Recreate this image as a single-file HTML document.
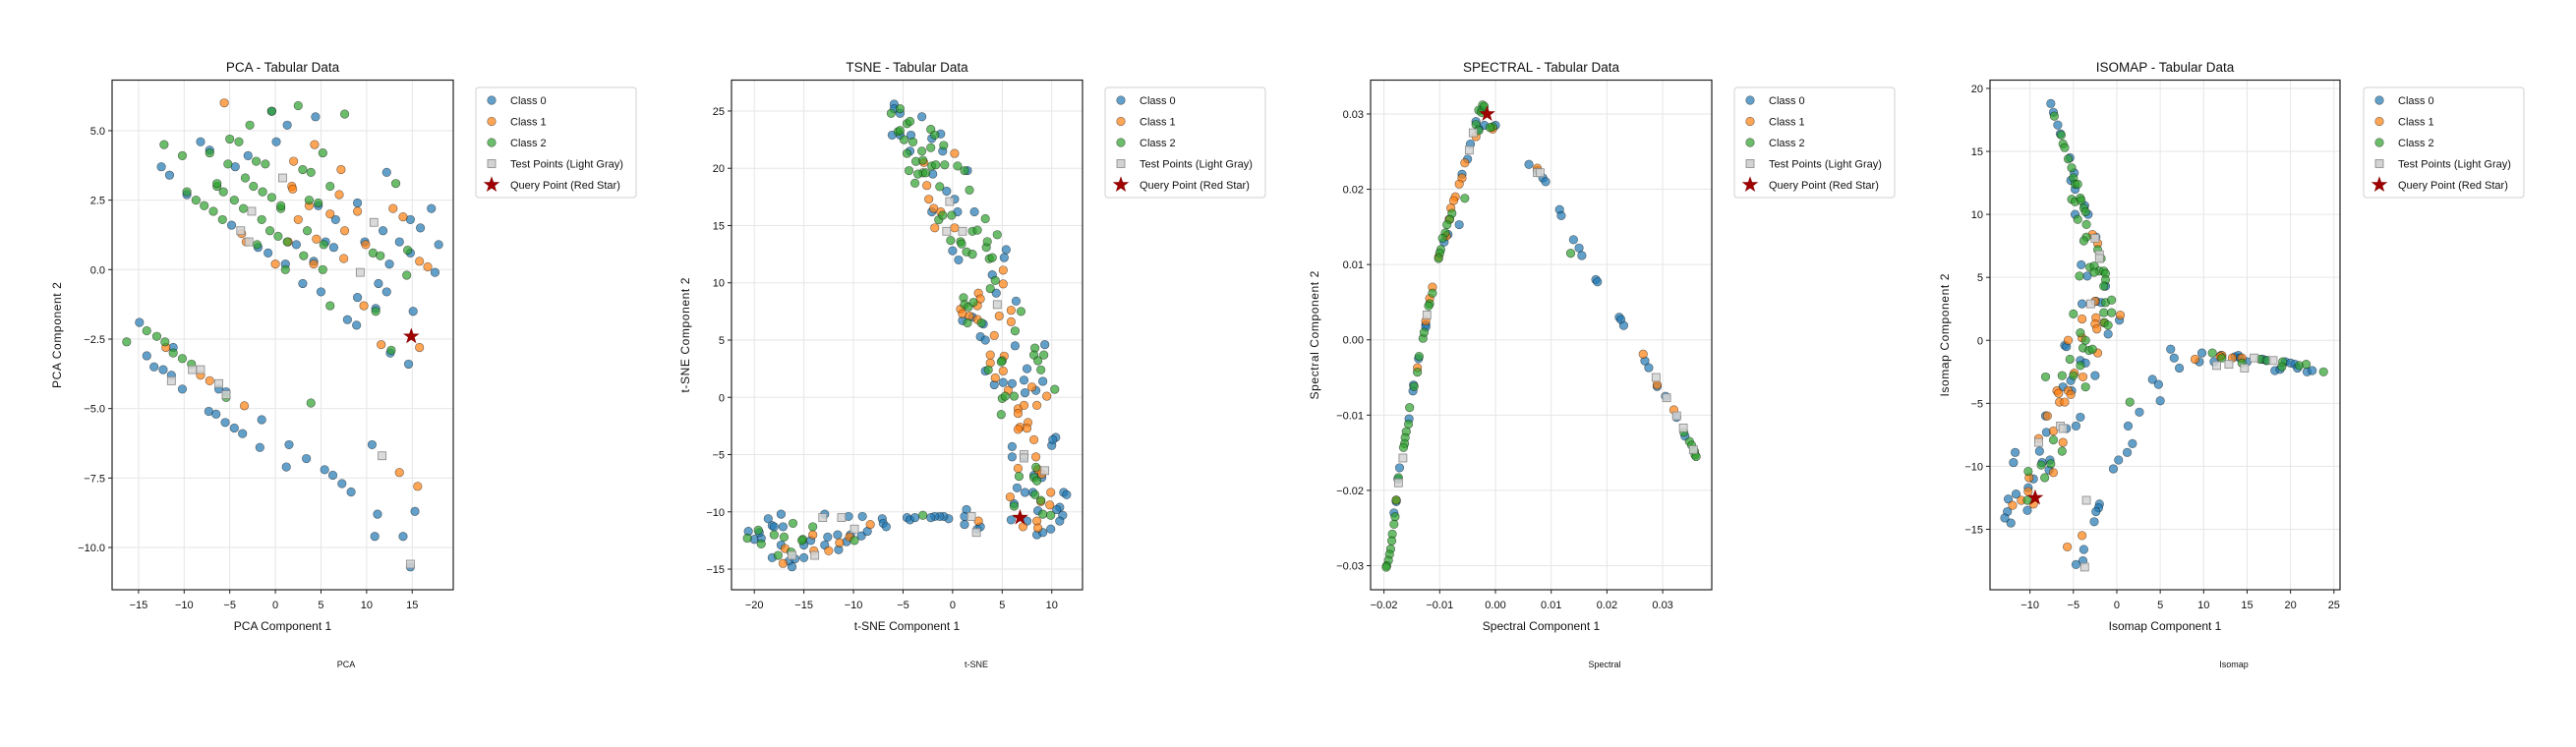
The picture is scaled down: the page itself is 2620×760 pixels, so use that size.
<!DOCTYPE html>
<html><head><meta charset="utf-8">
<style>
html,body{margin:0;padding:0;background:#fff;}
svg{display:block;font-family:"Liberation Sans","DejaVu Sans",sans-serif;}
</style></head>
<body>
<svg id="chart" width="2620" height="760" viewBox="0 0 2620 760" xmlns="http://www.w3.org/2000/svg"></svg>
<script>
// ---------- PCA data ----------
const pcaC0=[[-12.5,3.7],[-11.6,3.4],[-8.2,4.6],[-7.2,4.3],[-4.4,3.7],[-3,4.1],[-0.4,5.7],[0.1,4.6],[1.3,5.2],[4.4,5.5],[12.2,3.5],[9,2.4],[4.7,2.3],[6.6,1.8],[-4.8,1.6],[-1.9,0.8],[-0.8,0.6],[1.1,0.2],[2.3,0.9],[4.2,0.3],[5.5,1.0],[6.4,0.8],[9.8,1.0],[11.8,1.4],[13.6,1.0],[14.8,1.8],[15.9,1.5],[17.1,2.2],[17.9,0.9],[17.5,-0.1],[12.5,0.2],[14.8,0.6],[3.0,-0.5],[5.0,-0.8],[11.3,-0.5],[12.2,-0.8],[9.0,-1.0],[11.0,-1.4],[15.1,-1.5],[7.9,-1.8],[8.9,-2.0],[12.6,-3.0],[14.6,-3.4],[-9.7,2.7],[-14.9,-1.9],[-14.1,-3.1],[-13.3,-3.5],[-12.3,-3.6],[-11.2,-2.8],[-11.4,-3.8],[-10.2,-4.3],[-7.3,-5.1],[-6.5,-5.2],[-5.5,-5.5],[-4.5,-5.7],[-3.6,-5.9],[-5.4,-4.4],[-1.5,-5.4],[-1.7,-6.4],[1.5,-6.3],[1.2,-7.1],[3.4,-6.8],[5.4,-7.2],[6.3,-7.4],[7.3,-7.7],[8.3,-8.0],[10.6,-6.3],[11.2,-8.8],[10.9,-9.6],[14.0,-9.6],[15.3,-8.7],[14.8,-10.7],[-6.2,-4.3]];
const pcaC1=[[-5.6,6.0],[4.3,4.5],[2.0,3.9],[7.2,3.6],[1.8,3.0],[1.9,2.9],[7.0,2.7],[3.7,2.3],[6.0,2.0],[9.0,2.1],[12.9,2.2],[14.0,1.9],[2.5,1.8],[7.6,1.4],[4.5,1.1],[9.9,0.9],[0,0.2],[4.2,0.2],[7.5,0.4],[15.8,0.3],[16.7,0.1],[9.7,-1.3],[11.6,-2.7],[15.8,-2.8],[-3.7,1.3],[-3.2,1.0],[-8.2,-3.8],[-7.2,-4.0],[-3.4,-4.9],[13.6,-7.3],[15.6,-7.8],[1.4,1.0],[-12.0,-2.8]];
const pcaC2=[[-12.2,4.5],[-10.2,4.1],[-7.2,4.2],[-5.0,4.7],[-4.0,4.6],[-2.8,5.2],[-0.4,5.7],[2.5,5.9],[7.6,5.6],[-5.2,3.8],[-3.3,3.3],[-2.1,3.9],[-1.1,3.8],[-2.4,3.0],[-1.4,2.8],[-0.4,2.6],[0.6,2.2],[3.0,3.6],[3.9,3.5],[6.0,3.0],[5.2,4.2],[13.2,3.1],[-9.7,2.8],[-8.7,2.5],[-7.8,2.3],[-6.8,2.1],[-6.4,3.0],[-5.7,2.8],[-4.5,2.5],[-3.5,2.2],[-5.8,1.8],[-1.5,1.8],[-0.6,1.4],[0.3,1.2],[1.3,1.0],[3.5,1.4],[4.7,2.4],[3.7,2.5],[5.3,0.9],[3.1,0.5],[5.2,0.0],[1.1,0],[-2,0.9],[10.7,0.6],[11.5,0.5],[11.0,-1.5],[14.5,0.7],[14.4,-0.2],[6.0,-1.3],[12.7,-2.9],[-16.3,-2.6],[-14.1,-2.2],[-13.0,-2.4],[-12.1,-2.6],[-11.2,-3.0],[-10.2,-3.2],[-9.2,-3.4],[-5.4,-4.6],[3.9,-4.8],[0.6,2.3],[-6.4,3.1]];
const pcaTest=[[0.8,3.3],[-2.6,2.1],[-3.8,1.4],[-2.9,1.0],[10.8,1.7],[9.3,-0.1],[-11.4,-4.0],[-9.1,-3.6],[-8.2,-3.6],[-6.2,-4.1],[-5.4,-4.5],[11.7,-6.7],[14.8,-10.6]];
const pcaQuery=[14.9,-2.4];
const pcaXTicks=[-15,-10,-5,0,5,10,15];
const pcaYTicks=[-10,-7.5,-5,-2.5,0,2.5,5];

// ---------- t-SNE data ----------
const tsneC0=[[-5.9,25.6],[-5.9,25.2],[-5.3,24.8],[-3.1,24.5],[-6.1,22.9],[-5.3,22.9],[-4.2,22.9],[-4.3,21.5],[-2.1,22.6],[-1.2,23.0],[-1.0,21.5],[-2.0,19.5],[1.5,19.8],[-0.6,18.0],[0.2,17.3],[0.5,16.2],[2.2,16.2],[-2.1,16.2],[0,12.8],[0.6,12.0],[5.4,12.9],[5.2,12.2],[4.0,10.7],[4.4,9.1],[6.4,8.4],[1.0,6.7],[2.0,7.0],[3.1,6.4],[2.8,5.3],[3.3,5.0],[6.3,4.5],[9.3,4.6],[3.3,2.3],[4.2,1.1],[5.1,1.3],[6.0,1.2],[7.5,2.5],[7.2,1.5],[7.3,0.4],[8.4,0.6],[9.1,1.4],[6.0,-4.3],[6.0,-5.2],[7.2,-5.2],[8.2,-6.8],[9.0,-7.0],[10.0,-4.2],[10.4,-3.5],[10.1,-3.7],[6.5,-7.9],[7.3,-8.3],[8.1,-8.3],[11.2,-8.3],[11.5,-8.5],[10.8,-9.6],[6.2,-9.3],[8.6,-9.9],[5.9,-10.7],[7.5,-10.8],[8.5,-12.0],[9.1,-11.8],[9.9,-11.5],[10.5,-9.8],[11.1,-10.3],[10.8,-10.8],[1.4,-9.8],[1.2,-11.1],[1.2,-10.4],[2.5,-11.5],[2.8,-11.3],[-0.4,-10.6],[-0.9,-10.4],[-1.3,-10.4],[-1.8,-10.4],[-2.2,-10.5],[-4.6,-10.5],[-4.3,-10.7],[-3.8,-10.5],[-7.1,-10.6],[-7.0,-11.0],[-6.7,-11.3],[-9.1,-10.4],[-10.5,-10.4],[-12.9,-10.2],[-20.6,-11.7],[-20.0,-12.4],[-18.6,-10.6],[-18.2,-11.2],[-18.0,-11.3],[-17.3,-10.2],[-17.1,-11.3],[-17.3,-12.9],[-18.2,-14.0],[-16.5,-14.3],[-16.2,-14.8],[-15.9,-14.1],[-15.0,-14.0],[-15.0,-12.9],[-14.3,-12.5],[-12.9,-12.9],[-12.6,-12.2],[-11.6,-12.0],[-11.5,-13.3],[-10.7,-12.6],[-10.3,-12.0],[-9.2,-12.1],[-8.6,-11.7],[-19.3,-12.3],[-19.5,-11.8]];
const tsneC1=[[0.2,21.3],[-2.9,20.5],[-2.6,18.5],[-2.4,17.3],[-1.9,16.5],[-1.2,16.2],[-1.8,14.8],[0.2,14.8],[5.1,11.1],[5.1,9.9],[2.6,9.1],[2.8,8.6],[2.5,8.0],[0.8,7.7],[1.0,7.3],[1.7,7.1],[2.5,6.8],[4.7,7.1],[5.9,7.6],[5.9,6.6],[4.2,5.4],[3.8,3.7],[3.8,3.0],[5.2,3.6],[5.1,2.3],[4.3,1.7],[5.6,0.6],[6.6,-1.0],[6.6,-1.4],[7.2,-0.7],[8.5,-0.7],[9.5,0.1],[8.0,0.9],[6.8,-2.6],[6.6,-2.8],[7.6,-2.2],[7.5,-2.7],[8.2,-3.7],[8.4,-5.2],[6.6,-6.2],[8.6,-6.3],[9.0,-6.7],[9.9,-8.3],[8.9,-9.1],[9.8,-9.4],[5.8,-8.7],[7.1,-11.3],[8.5,-10.8],[8.6,-11.4],[2.6,-10.8],[-8.3,-11.1],[-10.4,-12.2],[-11.4,-12.7],[-12.5,-13.4],[-14.1,-12.0],[-14.0,-13.4],[-17.1,-14.5],[-16.9,-13.2]];
const tsneC2=[[-6.2,24.8],[-5.3,25.2],[-5.5,23.2],[-5.3,23.3],[-4.6,23.9],[-4.3,24.1],[-4.9,22.5],[-4.6,21.3],[-4.0,22.3],[-2.2,23.4],[-1.8,22.9],[-2.2,21.8],[-0.9,22.0],[-3.1,21.5],[-3.7,20.6],[-3.0,20.7],[-4.4,19.8],[-2.1,20.2],[-1.7,20.3],[-0.8,20.3],[0.5,20.2],[-3.0,19.6],[-3.5,19.5],[-2.7,19.6],[-3.8,18.7],[-1.3,18.4],[1.2,19.8],[1.7,18.1],[-1.4,15.5],[-1.0,15.9],[-0.1,15.9],[2.0,14.5],[2.5,14.6],[3.3,15.6],[4.5,14.2],[-0.2,13.7],[0.8,13.6],[1.4,12.7],[2.0,12.5],[0.9,13.4],[3.4,13.1],[3.5,13.6],[3.7,12.1],[4.0,12.2],[4.3,10.2],[3.8,9.5],[1.1,8.7],[1.2,8.1],[1.6,7.9],[2.1,8.3],[1.5,6.5],[2.9,6.5],[6.9,7.5],[6.3,5.8],[8.3,4.3],[8.2,3.7],[8.6,3.2],[9.2,3.7],[8.9,2.4],[5.0,3.2],[4.9,3.1],[3.6,2.4],[5.0,-0.1],[5.3,0.1],[6.2,0.1],[4.9,-1.5],[10.3,0.7],[8.4,-6.1],[6.7,-6.9],[8.2,-7.0],[8.5,-7.3],[6.2,-9.5],[8.3,-8.5],[8.9,-9.0],[9.1,-10.2],[9.9,-10.3],[-3.0,-10.3],[-16.1,-11.0],[-17.0,-12.2],[-18.0,-12.0],[-19.6,-11.6],[-20.7,-12.3],[-19.3,-12.8],[-17.6,-13.8],[-15.1,-12.4],[-14.1,-11.3],[-15.2,-12.5],[-9.9,-12.5],[-16.3,-13.5]];
const tsneTest=[[-0.3,17.1],[-0.6,14.5],[1.0,14.5],[4.5,8.1],[7.2,-5.0],[7.2,-5.3],[9.3,-6.4],[1.9,-10.4],[2.4,-11.8],[-9.9,-11.5],[-11.2,-10.5],[-13.1,-10.5],[-13.9,-13.8],[-16.2,-13.8]];
const tsneQuery=[6.8,-10.5];
const tsneXTicks=[-20,-15,-10,-5,0,5,10];
const tsneYTicks=[-15,-10,-5,0,5,10,15,20,25];

// ---------- Spectral data ----------
const specC0=[[-0.0025,0.0305],[-0.0035,0.029],[-0.002,0.0285],[-0.003,0.028],[0.0,0.0285],[-0.0045,0.026],[-0.005,0.024],[-0.006,0.022],[-0.0065,0.0153],[-0.0085,0.014],[-0.0092,0.013],[-0.0125,0.002],[-0.0125,0.0017],[-0.0138,-0.0025],[-0.0147,-0.006],[-0.0148,-0.0068],[-0.0155,-0.0105],[-0.0172,-0.017],[-0.0175,-0.0185],[-0.0178,-0.0215],[-0.0182,-0.023],[0.006,0.0233],[0.0075,0.0225],[0.0085,0.0215],[0.009,0.021],[0.0115,0.0173],[0.0118,0.0165],[0.014,0.0133],[0.015,0.0122],[0.0155,0.0112],[0.018,0.008],[0.0183,0.0077],[0.0222,0.003],[0.0225,0.0027],[0.023,0.0019],[0.0268,-0.0028],[0.0275,-0.0037],[0.029,-0.0062],[0.0305,-0.0075],[0.0325,-0.0103],[0.034,-0.0128]];
const specC1=[[-0.0005,0.028],[-0.0035,0.027],[-0.0055,0.0235],[-0.006,0.0215],[-0.0065,0.0207],[-0.0072,0.019],[-0.0075,0.0185],[-0.008,0.0175],[-0.0083,0.016],[-0.0088,0.0138],[-0.0102,0.011],[-0.0113,0.007],[-0.0118,0.0055],[-0.0125,0.0025],[-0.014,-0.0037],[-0.0178,-0.0213],[0.0075,0.0228],[0.0265,-0.0019],[0.029,-0.006],[0.032,-0.0093]];
const specC2=[[-0.0023,0.0312],[-0.003,0.0305],[-0.0025,0.0302],[-0.0035,0.0286],[-0.003,0.0278],[-0.002,0.031],[-0.0005,0.0283],[-0.0055,0.0188],[-0.0078,0.0168],[-0.0082,0.016],[-0.0087,0.0153],[-0.009,0.0142],[-0.0095,0.0135],[-0.0098,0.012],[-0.01,0.0115],[-0.0102,0.0108],[-0.0113,0.0062],[-0.0118,0.0048],[-0.012,0.0045],[-0.013,0.0002],[-0.0128,0.001],[-0.0137,-0.0022],[-0.014,-0.0043],[-0.0146,-0.0062],[-0.0154,-0.009],[-0.0156,-0.0112],[-0.016,-0.0122],[-0.0162,-0.013],[-0.0163,-0.0138],[-0.0165,-0.0143],[-0.0174,-0.0183],[-0.0178,-0.0213],[-0.018,-0.0235],[-0.0182,-0.0245],[-0.0185,-0.0258],[-0.0186,-0.0267],[-0.0188,-0.0278],[-0.019,-0.0285],[-0.0192,-0.0293],[-0.0195,-0.03],[-0.0196,-0.0302],[0.0135,0.0115],[0.0338,-0.0123],[0.0348,-0.0135],[0.0352,-0.014],[0.0357,-0.0148],[0.0358,-0.0153],[0.036,-0.0155],[-0.001,0.0282]];
const specTest=[[-0.004,0.0275],[-0.0047,0.0252],[0.0075,0.0222],[0.008,0.0222],[-0.0123,0.0033],[-0.0166,-0.0157],[-0.0174,-0.019],[0.0288,-0.005],[0.0307,-0.0077],[0.0325,-0.0101],[0.0337,-0.0117],[0.0355,-0.0146]];
const specQuery=[-0.0015,0.030];
const specXTicks=[-0.02,-0.01,0,0.01,0.02,0.03];
const specYTicks=[-0.03,-0.02,-0.01,0,0.01,0.02,0.03];

// ---------- Isomap data ----------
const isoC0=[[-7.6,18.8],[-7.3,18.1],[-6.8,17.1],[-6.5,16.4],[-5.4,14.5],[-5.3,12.7],[-4.9,13.3],[-4.8,12.0],[-3.7,10.7],[-3.3,10.0],[-4.8,10.0],[-4.1,6.0],[-3.4,5.1],[-2.4,8.2],[-1.3,4.3],[-4.0,2.9],[-2.4,3.1],[-1.8,3.0],[0.3,1.6],[-1.0,0.5],[-6.0,-0.4],[-5.8,-0.5],[-4.2,-1.6],[-3.6,-1.8],[-2.5,-2.8],[-5.3,-3.2],[-6.2,-3.7],[-5.2,-4.0],[-8.2,-6.0],[-4.2,-6.1],[-4.7,-6.8],[-5.8,-7.0],[-8.1,-7.3],[-8.9,-8.8],[-8.6,-9.7],[-7.7,-9.5],[-7.8,-10.3],[-11.7,-8.9],[-11.9,-9.7],[-11.6,-12.2],[-12.5,-12.6],[-12.6,-13.6],[-12.2,-14.5],[-12.9,-14.1],[-10.2,-11.7],[-10.3,-13.5],[-9.6,-11.0],[-2.0,-13.0],[-2.1,-13.3],[-2.4,-13.6],[-2.6,-14.4],[-3.8,-16.6],[-3.9,-17.5],[-4.7,-17.8],[-0.4,-10.2],[0.2,-9.5],[1.2,-8.9],[1.3,-6.8],[1.8,-8.2],[2.6,-5.7],[4.1,-3.1],[4.8,-3.5],[5.0,-4.8],[6.2,-0.7],[6.6,-1.4],[7.2,-2.2],[9.5,-1.7],[9.8,-1.0],[11.2,-1.7],[12.0,-1.2],[13.6,-1.3],[14.0,-1.2],[14.2,-1.4],[15.0,-1.7],[16.8,-1.5],[17.2,-1.6],[18.2,-2.4],[18.8,-2.3],[19.4,-1.7],[20.0,-1.8],[20.5,-1.9],[20.8,-2.2],[21.9,-2.5],[22.5,-2.4]];
const isoC1=[[-2.8,8.4],[-2.2,7.7],[-2.5,3.1],[-4.0,1.7],[-2.4,1.8],[-2.5,1.3],[-2.3,0.9],[-1.5,1.4],[0.4,2.0],[-5.6,0.0],[-4.0,0.2],[-2.2,-1.0],[-4.9,-2.6],[-3.9,-2.9],[-6.9,-4.0],[-6.7,-4.2],[-6.6,-4.9],[-6.0,-4.9],[-5.6,-4.0],[-5.3,-4.3],[-8.0,-6.0],[-7.3,-7.2],[-6.2,-8.1],[-9.0,-7.8],[-7.3,-10.5],[-10.1,-10.9],[-10.2,-12.0],[-11.0,-12.7],[-9.6,-13.0],[-12.0,-13.1],[-4.0,-15.5],[-5.7,-16.4],[9.0,-1.5],[12.1,-1.2],[13.3,-1.4],[14.4,-1.4],[11.9,-1.3]];
const isoC2=[[-7.2,17.8],[-6.4,16.3],[-6.2,15.6],[-6.0,15.3],[-5.6,14.4],[-5.2,13.7],[-5.0,12.9],[-4.8,12.4],[-4.5,12.4],[-5.2,11.2],[-4.8,11.0],[-4.2,11.3],[-4.1,11.1],[-3.8,10.5],[-3.6,10.2],[-3.5,9.2],[-4.5,9.6],[-3.5,8.2],[-3.8,7.9],[-2.2,7.2],[-1.8,6.5],[-3.1,5.8],[-2.6,5.9],[-2.0,5.5],[-1.5,5.5],[-1.3,5.3],[-1.3,4.8],[-4.3,5.1],[-2.6,5.4],[-1.5,4.3],[-1.3,3.0],[-1.5,2.2],[-0.6,3.2],[-0.6,2.2],[-1.4,1.4],[-1.0,1.2],[-4.2,0.6],[-3.6,0.0],[-3.9,-0.6],[-3.2,-0.8],[-2.8,-0.7],[-5.0,2.1],[-5.4,-1.5],[-4.2,-2.0],[-6.3,-2.8],[-5.0,-2.8],[-3.6,-3.7],[-8.2,-2.9],[-7.3,-7.9],[-6.3,-8.8],[-7.6,-9.8],[-8.7,-9.9],[-10.2,-10.4],[-8.3,-10.9],[-10.3,-12.7],[1.5,-4.9],[11.0,-1.0],[12.1,-1.4],[16.5,-1.5],[17.3,-1.6],[19.1,-1.7],[19.0,-2.1],[21.0,-2.0],[21.8,-1.9],[23.8,-2.5],[14.4,-1.8]];
const isoTest=[[-2.5,8.1],[-2.0,6.8],[-2.0,6.5],[-3.0,2.9],[-6.5,-6.8],[-6.2,-7.0],[-9.0,-8.1],[-3.5,-12.7],[-3.7,-18.0],[11.5,-2.0],[12.9,-1.9],[14.7,-2.2],[15.8,-1.4],[18.0,-1.6]];
const isoQuery=[-9.4,-12.5];
const isoXTicks=[-10,-5,0,5,10,15,20,25];
const isoYTicks=[-15,-10,-5,0,5,10,15,20];

const legendLabels=["Class 0","Class 1","Class 2","Test Points (Light Gray)","Query Point (Red Star)"];
const classColors=["#1f77b4","#ff7f0e","#2ca02c"];

const NS="http://www.w3.org/2000/svg";
const svg=document.getElementById('chart');
function mk(tag,attrs,parent){const e=document.createElementNS(NS,tag);for(const k in attrs)e.setAttribute(k,attrs[k]);(parent||svg).appendChild(e);return e;}
function fmt(v,dec){let s=v.toFixed(dec);if(v<0)s='\u2212'+(-v).toFixed(dec);if(Math.abs(v)<1e-12)s=(0).toFixed(dec);return s;}
function starPts(cx,cy,R){const r=R*0.4;let p=[];for(let i=0;i<10;i++){const a=-Math.PI/2+i*Math.PI/5;const rr=i%2?r:R;p.push((cx+rr*Math.cos(a)).toFixed(2)+','+(cy+rr*Math.sin(a)).toFixed(2));}return p.join(' ');}

function panel(cfg){
  const g=mk('g',{});
  
  
  const {L,T,R,B,xmin,xmax,ymin,ymax}=cfg;
  const sx=v=>L+(v-xmin)/(xmax-xmin)*(R-L);
  const sy=v=>B-(v-ymin)/(ymax-ymin)*(B-T);
  // grid
  cfg.xticks.forEach(t=>{const l=mk('line',{x1:sx(t),x2:sx(t),y1:T,y2:B,stroke:'#e6e6e6','stroke-width':1},g);});
  cfg.yticks.forEach(t=>{const l=mk('line',{x1:L,x2:R,y1:sy(t),y2:sy(t),stroke:'#e6e6e6','stroke-width':1},g);});
  // points
  const cls=[cfg.c0,cfg.c1,cfg.c2];
  cls.forEach((arr,ci)=>{
    arr.forEach(p=>{
      const c=mk('circle',{cx:sx(p[0]),cy:sy(p[1]),r:4.3,fill:classColors[ci],'fill-opacity':0.7,stroke:'#000','stroke-opacity':0.55,'stroke-width':0.6},g);
      
      
    });
  });
  cfg.test.forEach(p=>{
    const s=mk('rect',{x:sx(p[0])-4,y:sy(p[1])-4,width:8,height:8,fill:'#d3d3d3','fill-opacity':0.85,stroke:'#888','stroke-width':0.8},g);
    
    
  });
  const st=mk('polygon',{points:starPts(sx(cfg.query[0]),sy(cfg.query[1]),7.5),fill:'#a00000',stroke:'#8b0000','stroke-width':0.8},g);
  
  
  // frame
  const fr=mk('rect',{x:L,y:T,width:R-L,height:B-T,fill:'none',stroke:'#222','stroke-width':1.2},g);
  
  
  // ticks
  cfg.xticks.forEach(t=>{
    mk('line',{x1:sx(t),x2:sx(t),y1:B,y2:B+4,stroke:'#222','stroke-width':1},g);
    const tx=mk('text',{x:sx(t),y:B+19,'text-anchor':'middle','font-size':11,fill:'#111'},g);
    tx.textContent=fmt(t,cfg.xdec);
    
    
  });
  cfg.yticks.forEach(t=>{
    mk('line',{x1:L-4,x2:L,y1:sy(t),y2:sy(t),stroke:'#222','stroke-width':1},g);
    const tx=mk('text',{x:L-7,y:sy(t)+4,'text-anchor':'end','font-size':11,fill:'#111'},g);
    tx.textContent=fmt(t,cfg.ydec);
    
    
  });
  // title & labels
  const ti=mk('text',{x:(L+R)/2,y:73,'text-anchor':'middle','font-size':13.5,fill:'#111'},g);
  ti.textContent=cfg.title;
  
  
  const xl=mk('text',{x:(L+R)/2,y:641,'text-anchor':'middle','font-size':12,fill:'#111'},g);
  xl.textContent=cfg.xlabel;
  
  
  const ylx=cfg.ylx, yly=(T+B)/2;
  const yl=mk('text',{x:ylx,y:yly,'text-anchor':'middle','font-size':12,fill:'#111',transform:'rotate(-90 '+ylx+' '+yly+')','letter-spacing':'0.6'},g);
  yl.textContent=cfg.ylabel;
  
  
  const cap=mk('text',{x:cfg.capx,y:679,'text-anchor':'middle','font-size':9,fill:'#111'},g);
  cap.textContent=cfg.caption;
  
  
  // legend
  const LX=cfg.legx;
  const lg=mk('g',{},g);
  
  
  mk('rect',{x:LX,y:89,width:163,height:112,rx:3,fill:'#fff',stroke:'#d0d0d0','stroke-width':1},lg);
  legendLabels.forEach((lab,i)=>{
    const y=102+i*21.5;
    let m;
    if(i<3){m=mk('circle',{cx:LX+16,cy:y,r:4.3,fill:classColors[i],'fill-opacity':0.7,stroke:'#000','stroke-opacity':0.55,'stroke-width':0.6},lg);}
    else if(i===3){m=mk('rect',{x:LX+12,y:y-4,width:8,height:8,fill:'#d3d3d3',stroke:'#888','stroke-width':0.8},lg);}
    else{m=mk('polygon',{points:starPts(LX+16,y,7.5),fill:'#a00000',stroke:'#8b0000','stroke-width':0.8},lg);}
    
    
    const t=mk('text',{x:LX+35,y:y+4,'font-size':11,fill:'#111'},lg);
    t.textContent=lab;
    
    
  });
}

panel({key:'pca',L:114,T:81.5,R:461,B:600,xmin:-17.9,xmax:19.5,ymin:-11.52,ymax:6.82,c0:pcaC0,c1:pcaC1,c2:pcaC2,test:pcaTest,query:pcaQuery,xticks:pcaXTicks,yticks:pcaYTicks,xdec:0,ydec:1,title:'PCA - Tabular Data',xlabel:'PCA Component 1',ylabel:'PCA Component 2',ylx:62,capx:352,caption:'PCA',legx:484});
panel({key:'tsne',L:744,T:81.5,R:1101,B:600,xmin:-22.3,xmax:13.1,ymin:-16.8,ymax:27.7,c0:tsneC0,c1:tsneC1,c2:tsneC2,test:tsneTest,query:tsneQuery,xticks:tsneXTicks,yticks:tsneYTicks,xdec:0,ydec:0,title:'TSNE - Tabular Data',xlabel:'t-SNE Component 1',ylabel:'t-SNE Component 2',ylx:701,capx:993,caption:'t-SNE',legx:1124});
panel({key:'spectral',L:1394,T:81.5,R:1741,B:600,xmin:-0.0224,xmax:0.0388,ymin:-0.0332,ymax:0.0345,c0:specC0,c1:specC1,c2:specC2,test:specTest,query:specQuery,xticks:specXTicks,yticks:specYTicks,xdec:2,ydec:2,title:'SPECTRAL - Tabular Data',xlabel:'Spectral Component 1',ylabel:'Spectral Component 2',ylx:1341,capx:1632,caption:'Spectral',legx:1764});
panel({key:'isomap',L:2024,T:81.5,R:2380,B:600,xmin:-14.6,xmax:25.7,ymin:-19.8,ymax:20.66,c0:isoC0,c1:isoC1,c2:isoC2,test:isoTest,query:isoQuery,xticks:isoXTicks,yticks:isoYTicks,xdec:0,ydec:0,title:'ISOMAP - Tabular Data',xlabel:'Isomap Component 1',ylabel:'Isomap Component 2',ylx:1982,capx:2272,caption:'Isomap',legx:2404});
</script>
</body></html>
